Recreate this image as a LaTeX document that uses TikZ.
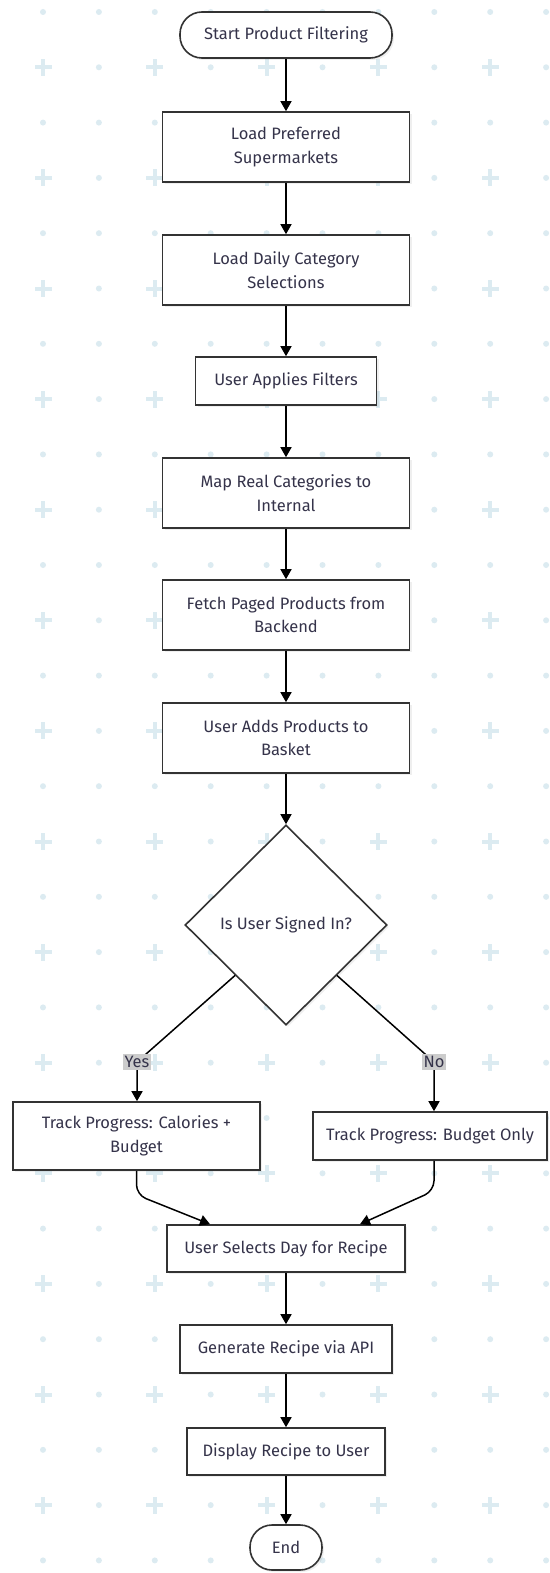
\documentclass[tikz,border=0pt]{standalone}
\usepackage{fontspec}
\setmainfont{Fira Sans}
\usetikzlibrary{positioning, shapes.geometric, arrows.meta, calc, shadows}
\definecolor{flowink}{HTML}{333333}
\definecolor{flowtext}{HTML}{35334A}
\definecolor{gridblue}{HTML}{DCEBF1}
\definecolor{lblgray}{HTML}{CCCCCC}

\tikzset{
  procbox/.style={draw=flowink, fill=white, line width=1.6pt, align=center,
                  text=flowtext, inner sep=4pt,
                  drop shadow={opacity=0.12, shadow xshift=2pt, shadow yshift=-2pt}},
  termbox/.style={procbox, rounded corners=22pt},
  decbox/.style={procbox, diamond, aspect=1, inner sep=0pt},
  flow/.style={draw=black, line width=1.5pt, -{Triangle[length=10pt, width=11pt]}},
  lbl/.style={fill=lblgray, text=flowtext, inner sep=2pt}
}

\begin{document}
\begin{tikzpicture}[x=1pt, y=-1pt, font=\fontsize{16.5pt}{23.5pt}\selectfont]
    \fill[white] (0,0) rectangle (549,1573);
    \useasboundingbox (0,0) rectangle (549,1573);
    % dotted background
    \foreach \r in {0,...,28} {
      \foreach \c in {0,...,9} {
        \pgfmathsetmacro\gx{43+\c*55.9}
        \pgfmathsetmacro\gy{12+\r*55.3}
        \pgfmathparse{int(mod(\r,2)*(1-mod(\c,2)))}
        \ifnum\pgfmathresult=1
          \fill[gridblue] (\gx-8.5,\gy-2) rectangle (\gx+8.5,\gy+2);
          \fill[gridblue] (\gx-2,\gy-8.5) rectangle (\gx+2,\gy+8.5);
        \else
          \fill[gridblue] (\gx,\gy) circle (3);
        \fi
      }
    }

    \node[termbox, minimum width=212pt, minimum height=46pt] (start) at (286,35) {Start Product Filtering};
    \node[procbox, minimum width=247pt, minimum height=70pt] (loadsm) at (286,147) {Load Preferred\\Supermarkets};
    \node[procbox, minimum width=247pt, minimum height=70pt] (loadcat) at (286,270) {Load Daily Category\\Selections};
    \node[procbox, minimum width=181pt, minimum height=48pt] (filters) at (286,381) {User Applies Filters};
    \node[procbox, minimum width=247pt, minimum height=70pt] (mapcat) at (286,493) {Map Real Categories to\\Internal};
    \node[procbox, minimum width=247pt, minimum height=70pt] (fetch) at (286,615) {Fetch Paged Products from\\Backend};
    \node[procbox, minimum width=247pt, minimum height=70pt] (basket) at (286,738) {User Adds Products to\\Basket};
    \node[decbox, minimum width=202pt, minimum height=200pt] (signed) at (286,925) {Is User Signed In?};
    \node[procbox, minimum width=247pt, minimum height=68pt] (trackcal) at (136.5,1136) {Track Progress: Calories +\\Budget};
    \node[procbox, minimum width=234pt, minimum height=48pt] (trackbud) at (430,1136) {Track Progress: Budget Only};
    \node[procbox, minimum width=238pt, minimum height=47pt] (pickday) at (286,1248.5) {User Selects Day for Recipe};
    \node[procbox, minimum width=212pt, minimum height=48pt] (genrec) at (286,1349) {Generate Recipe via API};
    \node[procbox, minimum width=198pt, minimum height=47pt] (showrec) at (286,1451.5) {Display Recipe to User};
    \node[termbox, minimum width=72pt, minimum height=45pt] (finish) at (286,1547.5) {End};

    \draw[flow] (start) -- (loadsm);
    \draw[flow] (loadsm) -- (loadcat);
    \draw[flow] (loadcat) -- (filters);
    \draw[flow] (filters) -- (mapcat);
    \draw[flow] (mapcat) -- (fetch);
    \draw[flow] (fetch) -- (basket);
    \draw[flow] (basket) -- (signed);

    % branches
    \coordinate (yespt) at (137,1062);
    \coordinate (nopt) at (434,1062);
    \draw[flow] (signed.south west) -- (yespt) -- (yespt |- trackcal.north);
    \draw[flow] (signed.south east) -- (nopt) -- (nopt |- trackbud.north);
    \node[lbl] (yes) at (yespt) {Yes};
    \node[lbl] (no) at (nopt) {No};

    \draw[flow, rounded corners=10pt] (trackcal.south) -- ++(0,24) -- ($(pickday.north)+(-76,0)$);
    \draw[flow, rounded corners=10pt] (nopt |- trackbud.south) -- ++(0,30) -- ($(pickday.north)+(74,0)$);

    \draw[flow] (pickday) -- (genrec);
    \draw[flow] (genrec) -- (showrec);
    \draw[flow] (showrec) -- (finish);
\end{tikzpicture}
\end{document}
